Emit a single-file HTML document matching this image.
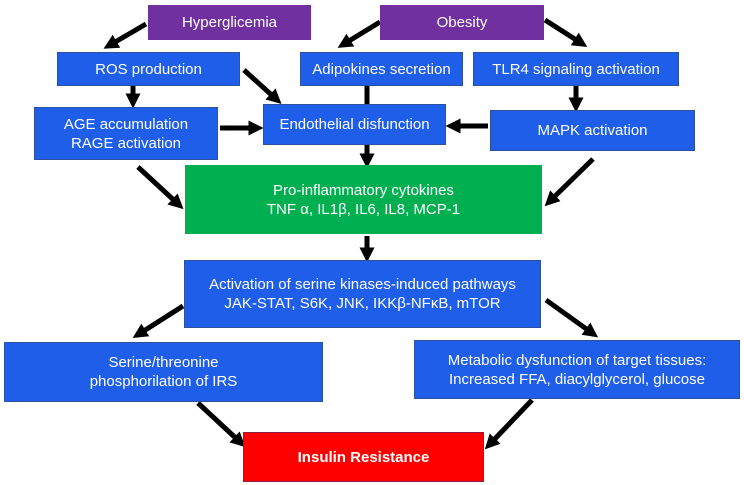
<!DOCTYPE html>
<html><head><style>
body{margin:0;width:744px;height:485px;background:#fff;position:relative;overflow:hidden;font-family:"Liberation Sans",sans-serif;}
.b{position:absolute;z-index:2;color:#fff;display:flex;align-items:center;justify-content:center;text-align:center;font-size:15px;line-height:19px;box-sizing:border-box;}
.bl{background:#1f5ee8;border:1px solid #2f4f9f;}
.p{background:#7030a0;}
.g{background:#00b050;}
.r{background:#ff0000;font-weight:bold;border:1px solid #8a2040;}
svg{position:absolute;left:0;top:0;z-index:1;}
</style></head><body>
<svg width="744" height="485">
<defs><marker id="a" markerWidth="3" markerHeight="3" refX="1.5" refY="1.5" orient="auto" markerUnits="strokeWidth"><path d="M0,0 L3,1.5 L0,3z" fill="#000"/></marker></defs>
<g stroke="#000" stroke-width="5" marker-end="url(#a)">
<line x1="146" y1="24" x2="110" y2="45"/>
<line x1="380" y1="22" x2="344" y2="44"/>
<line x1="545" y1="20" x2="581" y2="43"/>
<line x1="133" y1="86" x2="133" y2="101"/>
<line x1="244" y1="70" x2="276" y2="99"/>
<line x1="220" y1="128" x2="256" y2="128"/>
<line x1="367" y1="86" x2="367" y2="161"/>
<line x1="488" y1="126" x2="453" y2="126"/>
<line x1="576" y1="86" x2="576" y2="105"/>
<line x1="138" y1="167" x2="178" y2="204"/>
<line x1="593" y1="159" x2="550" y2="201"/>
<line x1="367" y1="236" x2="367" y2="255"/>
<line x1="183" y1="306" x2="139" y2="334"/>
<line x1="546" y1="300" x2="592" y2="333"/>
<line x1="198" y1="403" x2="240" y2="442"/>
<line x1="532" y1="400" x2="490" y2="444"/>
</g>
</svg>
<div class="b p" style="left:148px;top:5px;width:163px;height:35px">Hyperglicemia</div>
<div class="b p" style="left:380px;top:5px;width:164px;height:35px">Obesity</div>
<div class="b bl" style="left:57px;top:52px;width:183px;height:34px">ROS production</div>
<div class="b bl" style="left:300px;top:52px;width:163px;height:34px">Adipokines secretion</div>
<div class="b bl" style="left:473px;top:52px;width:206px;height:34px">TLR4 signaling activation</div>
<div class="b bl" style="left:34px;top:107px;width:184px;height:53px">AGE accumulation<br>RAGE activation</div>
<div class="b bl" style="left:263px;top:104px;width:183px;height:41px">Endothelial disfunction</div>
<div class="b bl" style="left:490px;top:110px;width:205px;height:41px">MAPK activation</div>
<div class="b g" style="left:185px;top:165px;width:357px;height:69px">Pro-inflammatory cytokines<br>TNF α, IL1β, IL6, IL8, MCP-1</div>
<div class="b bl" style="left:184px;top:260px;width:357px;height:68px">Activation of serine kinases-induced pathways<br>JAK-STAT, S6K, JNK, IKKβ-NFκB, mTOR</div>
<div class="b bl" style="left:4px;top:342px;width:319px;height:60px">Serine/threonine<br>phosphorilation of IRS</div>
<div class="b bl" style="left:414px;top:340px;width:326px;height:59px">Metabolic dysfunction of target tissues:<br>Increased FFA, diacylglycerol, glucose</div>
<div class="b r" style="left:243px;top:432px;width:241px;height:50px">Insulin Resistance</div>
</body></html>
